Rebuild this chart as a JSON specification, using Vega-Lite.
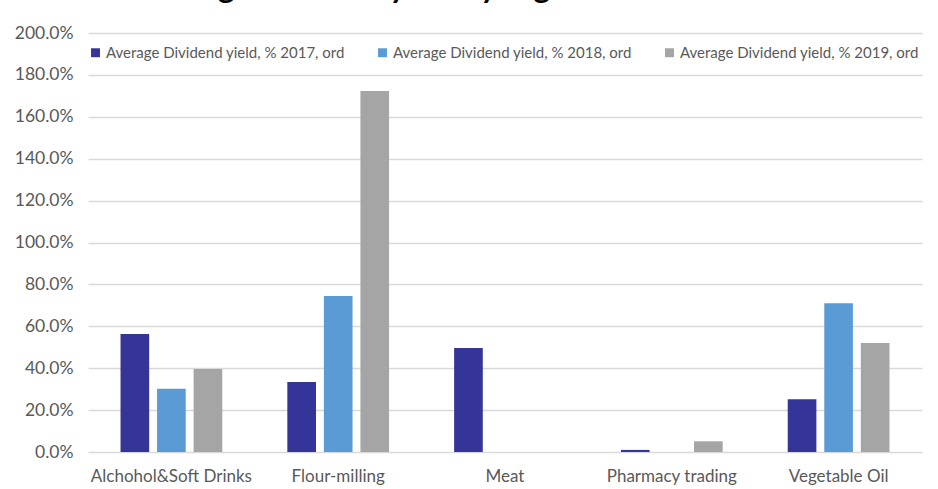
{
  "$schema": "https://vega.github.io/schema/vega-lite/v6.json",
  "autosize": {"type": "none"},
  "padding": {"left": 88, "top": 33, "right": 16, "bottom": 37},
  "width": 834,
  "height": 419,
  "background": "white",
  "title": {
    "text": "Average Dividend yield by segment",
    "anchor": "start",
    "dx": 124,
    "offset": 19,
    "fontSize": 31,
    "font": "Lato",
    "fontWeight": "bold",
    "color": "#000000"
  },
  "data": {
    "values": [
      {"segment": "Alchohol&Soft Drinks", "series": "Average Dividend yield, % 2017, ord", "value": 0.563},
      {"segment": "Alchohol&Soft Drinks", "series": "Average Dividend yield, % 2018, ord", "value": 0.302},
      {"segment": "Alchohol&Soft Drinks", "series": "Average Dividend yield, % 2019, ord", "value": 0.396},
      {"segment": "Flour-milling", "series": "Average Dividend yield, % 2017, ord", "value": 0.334},
      {"segment": "Flour-milling", "series": "Average Dividend yield, % 2018, ord", "value": 0.745},
      {"segment": "Flour-milling", "series": "Average Dividend yield, % 2019, ord", "value": 1.723},
      {"segment": "Meat", "series": "Average Dividend yield, % 2017, ord", "value": 0.496},
      {"segment": "Meat", "series": "Average Dividend yield, % 2018, ord", "value": 0},
      {"segment": "Meat", "series": "Average Dividend yield, % 2019, ord", "value": 0},
      {"segment": "Pharmacy trading", "series": "Average Dividend yield, % 2017, ord", "value": 0.01},
      {"segment": "Pharmacy trading", "series": "Average Dividend yield, % 2018, ord", "value": 0},
      {"segment": "Pharmacy trading", "series": "Average Dividend yield, % 2019, ord", "value": 0.051},
      {"segment": "Vegetable Oil", "series": "Average Dividend yield, % 2017, ord", "value": 0.252},
      {"segment": "Vegetable Oil", "series": "Average Dividend yield, % 2018, ord", "value": 0.71},
      {"segment": "Vegetable Oil", "series": "Average Dividend yield, % 2019, ord", "value": 0.52}
    ]
  },
  "mark": {"type": "bar"},
  "encoding": {
    "x": {
      "field": "segment",
      "type": "nominal",
      "sort": null,
      "scale": {"paddingInner": 0.39, "paddingOuter": 0.195},
      "axis": {
        "title": null,
        "labelAngle": 0,
        "ticks": false,
        "domain": false,
        "labelPadding": 16,
        "labelFont": "Lato",
        "labelFontSize": 17,
        "labelColor": "#595959"
      }
    },
    "xOffset": {
      "field": "series",
      "type": "nominal",
      "scale": {"paddingInner": 0.216, "paddingOuter": 0}
    },
    "y": {
      "field": "value",
      "type": "quantitative",
      "scale": {"domain": [0, 2], "nice": false},
      "axis": {
        "title": null,
        "format": ".1%",
        "values": [0, 0.2, 0.4, 0.6, 0.8, 1.0, 1.2, 1.4, 1.6, 1.8, 2.0],
        "ticks": false,
        "domain": false,
        "labelPadding": 15,
        "labelFont": "Lato",
        "labelFontSize": 17.5,
        "labelColor": "#595959",
        "gridColor": "#D9D9D9",
        "gridWidth": 1.5
      }
    },
    "color": {
      "field": "series",
      "type": "nominal",
      "scale": {"range": ["#343499", "#5B9BD5", "#A5A5A5"]},
      "legend": {
        "title": null,
        "orient": "none",
        "direction": "horizontal",
        "legendX": 0,
        "legendY": 12,
        "columns": 3,
        "gridAlign": "all",
        "columnPadding": 30,
        "symbolType": "square",
        "symbolSize": 80,
        "symbolStrokeWidth": 0,
        "labelFont": "Lato",
        "labelFontSize": 15,
        "labelColor": "#595959",
        "labelOffset": 3,
        "labelLimit": 300
      }
    }
  },
  "config": {
    "view": {"stroke": null}
  }
}
